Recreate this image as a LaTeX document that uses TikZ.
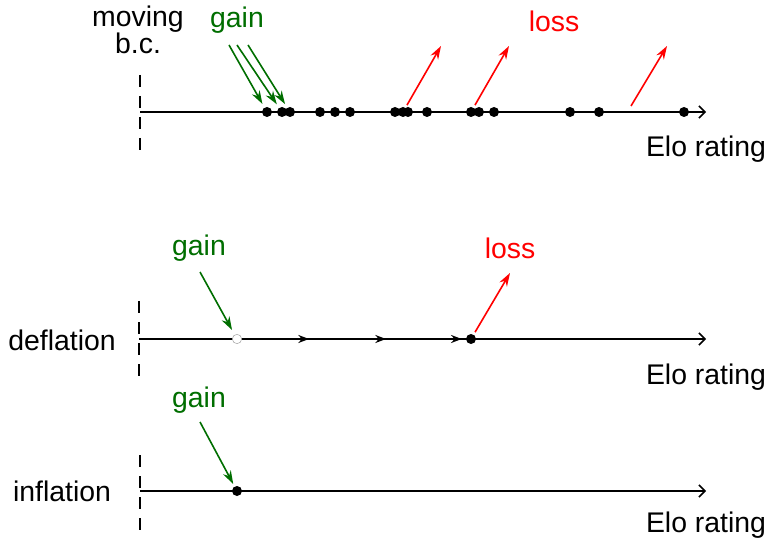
\documentclass[tikz,border=0pt]{standalone}
\usepackage{fontspec}
\setmainfont{Liberation Sans}
\usetikzlibrary{arrows.meta}
\definecolor{gaingreen}{HTML}{006E00}
\definecolor{lossred}{HTML}{FF0000}

\begin{document}
\begin{tikzpicture}[x=0.75pt,y=-0.75pt,>=Stealth,
    lbl/.style={inner sep=0pt,anchor=base,font=\fontsize{21.3}{20}\selectfont},
    dot/.style={circle,fill=black,inner sep=0pt,minimum size=7.5pt},
    hollow/.style={circle,draw=gray!70,fill=white,inner sep=0pt,minimum size=7pt},
    axis/.style={line width=1.5pt,-{Straight Barb[length=4.5pt,width=9pt,line width=1.1pt]}},
    bdry/.style={line width=1.5pt,dash pattern=on 9pt off 6.75pt},
    drift/.style={line width=2pt,-{Stealth[length=8pt,width=6pt]}},
    gainarr/.style={gaingreen,line width=1.2pt,-{Stealth[length=10pt,width=6.5pt]}},
    lossarr/.style={lossred,line width=1.2pt,-{Stealth[length=10pt,width=6.5pt]}}]
  \useasboundingbox (0,0) rectangle (770,541);

  % moving boundary
  \node[lbl] (moving) at (138,27) {moving};
  \node[lbl] (bc) at (138,54) {b.c.};
  \coordinate (bcA) at (140,75);
  \coordinate (bcB) at (140,150);
  \draw[bdry] (bcA) -- (bcB);
  \coordinate (topL) at (140,112);
  \coordinate (topR) at (706,112);
  \draw[axis] (topL) -- (topR);
  \foreach \x [count=\i] in {267,282,290,320,335,350,395,403,408,427,471,479,494,570,599,684}
    \node[dot] (t\i) at (\x,112) {};
  \node[lbl,gaingreen] (gainT) at (237,28) {gain};
  \node[lbl,lossred] (lossT) at (554,32) {loss};
  \node[lbl] (eloT) at (706,157) {Elo rating};
  \foreach \i/\x in {1/229,2/237,3/248}{
    \coordinate (gs\i) at (\x,45);
    \draw[gainarr,shorten >=3pt] (gs\i) -- (t\i);
  }
  \coordinate (le1) at (441,46);
  \coordinate (le2) at (509,46);
  \coordinate (ls3) at (631,106);
  \coordinate (le3) at (667,46);
  \draw[lossarr,shorten <=2pt] (t8) -- (le1);
  \draw[lossarr,shorten <=2pt] (t11) -- (le2);
  \draw[lossarr] (ls3) -- (le3);

  % deflation
  \node[lbl] (defl) at (62,350) {deflation};
  \coordinate (dbA) at (139,301);
  \coordinate (dbB) at (139,376);
  \draw[bdry] (dbA) -- (dbB);
  \coordinate (midL) at (139,339);
  \coordinate (midR) at (706,339);
  \draw[axis,line width=1.2pt] (midL) -- (midR);
  \node[hollow] (c0) at (237,339) {};
  \node[dot] (dm) at (471,339) {};
  \coordinate (m1) at (309,339);
  \coordinate (m2) at (386,339);
  \draw[drift] (c0) -- (m1);
  \draw[drift] (m1) -- (m2);
  \draw[drift,shorten >=3pt] (m2) -- (dm);
  \node[lbl,gaingreen] (gainM) at (199,256) {gain};
  \node[lbl,lossred] (lossM) at (510,259) {loss};
  \node[lbl] (eloM) at (706,384) {Elo rating};
  \coordinate (gsM) at (200,272);
  \coordinate (leM) at (510,273);
  \draw[gainarr,shorten >=4pt] (gsM) -- (c0);
  \draw[lossarr,shorten <=2pt] (dm) -- (leM);

  % inflation
  \node[lbl] (infl) at (62,501) {inflation};
  \coordinate (ibA) at (140,455);
  \coordinate (ibB) at (140,530);
  \draw[bdry] (ibA) -- (ibB);
  \coordinate (botL) at (140,491);
  \coordinate (botR) at (706,491);
  \draw[axis] (botL) -- (botR);
  \node[dot] (db) at (237,491) {};
  \node[lbl,gaingreen] (gainB) at (199,407) {gain};
  \node[lbl] (eloB) at (706,532) {Elo rating};
  \coordinate (gsB) at (200,422);
  \draw[gainarr,shorten >=2pt] (gsB) -- (db);
\end{tikzpicture}
\end{document}
